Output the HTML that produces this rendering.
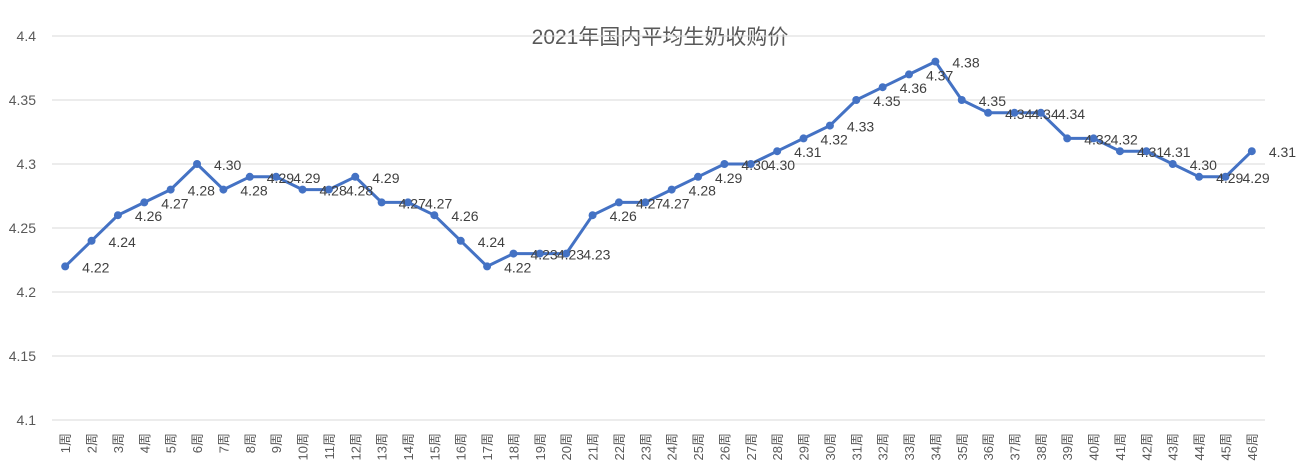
<!DOCTYPE html>
<html><head><meta charset="utf-8"><style>
body{margin:0;background:#fff;}
svg{display:block;font-family:"Liberation Sans","Noto Sans CJK SC",sans-serif;}
</style></head><body>
<svg id="chart" width="1305" height="472">
<text x="660" y="44" text-anchor="middle" font-size="21" fill="#595959">2021年国内平均生奶收购价</text>
<g id="grid"></g><g id="yl"></g><g id="xl"></g><g id="series"></g><g id="labels"></g>
</svg>
<script>
const categories = Array.from({length:46},(_, i)=>(i+1)+'周');
const values = [4.22,4.24,4.26,4.27,4.28,4.30,4.28,4.29,4.29,4.28,4.28,4.29,4.27,4.27,4.26,4.24,4.22,4.23,4.23,4.23,4.26,4.27,4.27,4.28,4.29,4.30,4.30,4.31,4.32,4.33,4.35,4.36,4.37,4.38,4.35,4.34,4.34,4.34,4.32,4.32,4.31,4.31,4.30,4.29,4.29,4.31];
const yTicks = [4.1,4.15,4.2,4.25,4.3,4.35,4.4];
const yTickLabels = ['4.1','4.15','4.2','4.25','4.3','4.35','4.4'];
const NS='http://www.w3.org/2000/svg';
const x0=52,x1=1265,yTop=36,yBot=420,yMin=4.1,yMax=4.4;
const band=(x1-x0)/categories.length;
const xs=i=>x0+band*(i+0.5);
const ys=v=>yBot-(v-yMin)/(yMax-yMin)*(yBot-yTop);
function mk(t,a,p){const e=document.createElementNS(NS,t);for(const k in a)e.setAttribute(k,a[k]);p.appendChild(e);return e;}
const g=document.getElementById('grid'),yl=document.getElementById('yl'),xl=document.getElementById('xl'),s=document.getElementById('series'),lb=document.getElementById('labels');
yTicks.forEach((t,i)=>{
  const l=mk('line',{x1:x0,x2:x1,y1:ys(t),y2:ys(t),stroke:'#d9d9d9','stroke-width':1},g);
  
  
  const tx=mk('text',{x:36,y:ys(t)+5,'text-anchor':'end','font-size':14,fill:'#595959'},yl);
  tx.textContent=yTickLabels[i];
  
  
});
categories.forEach((c,i)=>{
  const tx=mk('text',{transform:`translate(${xs(i)+5},433) rotate(-90)`,'text-anchor':'end','font-size':13,fill:'#595959'},xl);
  tx.textContent=c;
  
  
});
const pl=mk('polyline',{points:values.map((v,i)=>xs(i)+','+ys(v)).join(' '),fill:'none',stroke:'#4472c4','stroke-width':3,'stroke-linejoin':'round'},s);


values.forEach((v,i)=>{
  const c=mk('circle',{cx:xs(i),cy:ys(v),r:4,fill:'#4472c4'},s);
  
  
  const t=mk('text',{x:xs(i)+17,y:ys(v)+6,'font-size':14,fill:'#404040'},lb);
  t.textContent=v.toFixed(2);
  
  
});
</script>
</body></html>
